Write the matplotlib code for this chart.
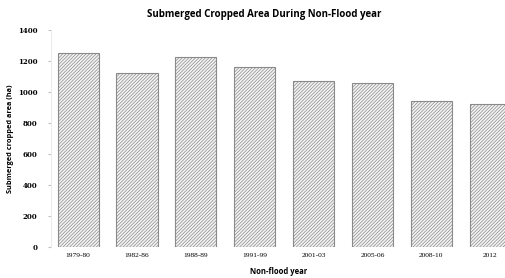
import matplotlib
matplotlib.use("Agg")
import matplotlib.pyplot as plt

categories = ["1979-80", "1982-86", "1988-89", "1991-99", "2001-03", "2005-06", "2008-10", "2012"]
values = [1250, 1121, 1228, 1159, 1071, 1060, 944, 921]
yticks = [0, 200, 400, 600, 800, 1000, 1200, 1400]

plt.rcParams['hatch.color'] = '#6a6a6a'
plt.rcParams['hatch.linewidth'] = 0.5

fig = plt.figure(figsize=(5.06, 2.78), dpi=100)
ax = fig.add_axes([0.101, 0.111, 0.899, 0.781])

x = list(range(len(categories)))
ax.bar(x, values, width=0.7, color='#f4f4f4', edgecolor='#8a8a8a', linewidth=0.8, hatch='//////////')

ax.set_ylim(0, 1400)
ax.set_xlim(-0.46, 7.27)
ax.set_yticks(yticks)
ax.set_yticklabels([str(v) for v in yticks], fontsize=5, fontweight='bold', family='DejaVu Serif')
ax.set_xticks(x)
ax.set_xticklabels(categories, fontsize=5.3, family='Liberation Serif')
ax.tick_params(axis='y', length=2, color='#c0c0c0', pad=8)
ax.tick_params(axis='x', length=0, pad=4)

for s in ['top', 'right', 'bottom']:
    ax.spines[s].set_visible(False)
ax.spines['left'].set_color('#e8e8e8')
ax.spines['left'].set_linewidth(0.6)

ax.set_ylabel("Submerged cropped area (ha)", fontsize=5.3, fontweight='bold', family='Open Sans', labelpad=3)
ax.set_xlabel("Non-flood year", fontsize=5.5, fontweight='bold', family='Open Sans', labelpad=7)
fig.text(0.522, 0.948, "Submerged Cropped Area During Non-Flood year", ha='center', va='center',
         fontsize=7, fontweight='bold', family='Open Sans')

fig.savefig("out.png", dpi=100)
